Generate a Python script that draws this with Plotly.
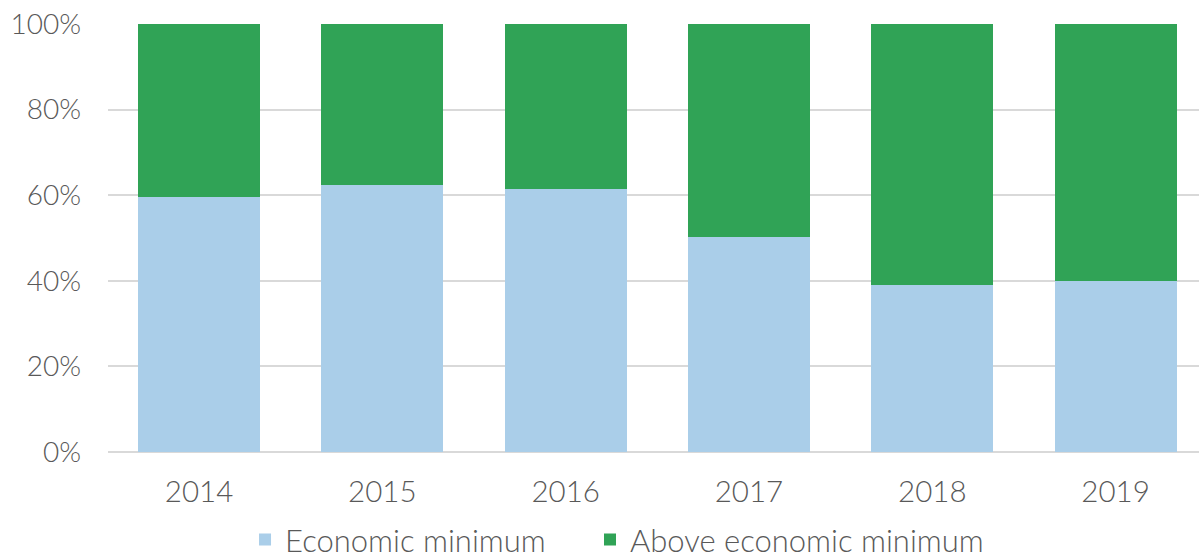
import plotly.graph_objects as go

years = ["2014", "2015", "2016", "2017", "2018", "2019"]
economic_minimum = [0.596, 0.624, 0.614, 0.503, 0.390, 0.399]
above_minimum = [1 - v for v in economic_minimum]

BLUE = "#AACEE9"
GREEN = "#30A356"
TEXT = "#595959"
FONT = "Lato"

fig = go.Figure()
fig.add_trace(go.Bar(x=list(range(len(years))), y=economic_minimum, name="Economic minimum",
                     marker=dict(color=BLUE, line=dict(width=0)), legend="legend"))
fig.add_trace(go.Bar(x=list(range(len(years))), y=above_minimum, name="Above economic minimum",
                     marker=dict(color=GREEN, line=dict(width=0)), legend="legend2"))

legend_common = dict(orientation="h", xanchor="left", y=-0.142, yanchor="top",
                     font=dict(size=31, color=TEXT, weight=300), itemwidth=30, itemclick=False,
                     bgcolor="rgba(0,0,0,0)")

fig.update_layout(
    width=1199, height=557,
    barmode="stack", bargap=0.334,
    plot_bgcolor="white", paper_bgcolor="white",
    margin=dict(l=108, r=0, t=24, b=105, autoexpand=False),
    font=dict(family=FONT, size=28, color=TEXT, weight=300),
    xaxis=dict(tickmode="array", tickvals=list(range(len(years))), ticktext=years,
               range=[-0.4965, 5.455], showgrid=False, showline=False, zeroline=False,
               automargin=False,
               ticks="", ticklabelstandoff=19,
               tickfont=dict(size=29.5, color=TEXT, weight=300)),
    yaxis=dict(range=[0, 1], tickvals=[0, 0.2, 0.4, 0.6, 0.8, 1.0], tickformat=".0%",
               showgrid=True, gridcolor="#D9D9D9", gridwidth=2, zeroline=True,
               zerolinecolor="#D9D9D9", zerolinewidth=2, showline=False, ticks="",
               automargin=False,
               ticklabelstandoff=26, tickfont=dict(size=28, color=TEXT, weight=300)),
    legend=dict(x=0.1256, **legend_common),
    legend2=dict(x=0.4418, **legend_common),
    showlegend=True,
)

fig.write_html("out.html", config={"displayModeBar": False},
               post_script="document.body.style.margin='0';document.body.style.overflow='hidden';")
